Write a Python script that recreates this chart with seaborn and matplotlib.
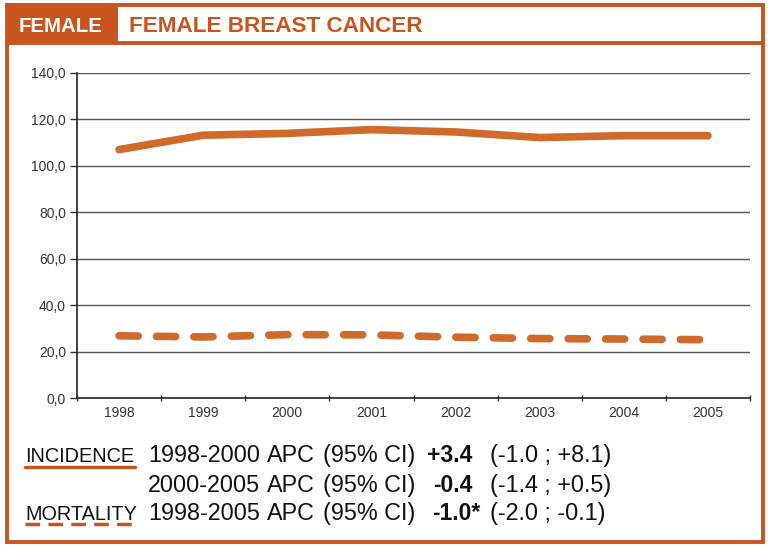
import pandas as pd
import seaborn as sns
import matplotlib.pyplot as plt
from matplotlib.patches import Rectangle
from matplotlib.lines import Line2D
from matplotlib.ticker import FixedLocator

# Data
years = ["1998", "1999", "2000", "2001", "2002", "2003", "2004", "2005"]
incidence = [107.0, 113.2, 114.0, 115.6, 114.6, 112.2, 113.0, 113.0]
mortality = [26.8, 26.3, 27.3, 27.2, 26.2, 25.6, 25.4, 25.1]

y_ticks = [0, 20, 40, 60, 80, 100, 120, 140]
y_tick_labels = ["0,0", "20,0", "40,0", "60,0", "80,0", "100,0", "120,0", "140,0"]

header_tag = "FEMALE"
title = "FEMALE BREAST CANCER"
row_labels = ["INCIDENCE", "", "MORTALITY"]
row_periods = ["1998-2000", "2000-2005", "1998-2005"]
row_apc = ["+3.4", "-0.4", "-1.0*"]
row_ci = ["(-1.0 ; +8.1)", "(-1.4 ; +0.5)", "(-2.0 ; -0.1)"]

W, H = 768, 548
FRAME = "#C8541F"
LINE = "#CF6A2B"
TXT = "#111111"

sns.set_theme(style="white")
plt.rcParams["font.family"] = ["Liberation Sans", "DejaVu Sans"]


def fx(x):
    return x / W


def fy(y):
    return 1 - y / H


df = pd.DataFrame({
    "year": years * 2,
    "value": incidence + mortality,
    "series": ["Incidence"] * len(years) + ["Mortality"] * len(years),
})

fig = plt.figure(figsize=(W / 100, H / 100), dpi=100)
ax = fig.add_axes([fx(77), fy(398), fx(750) - fx(77), fy(73) - fy(398)])

# horizontal grid
for y in y_ticks[1:]:
    ax.axhline(y, color="#555555", lw=1.0, zorder=0)

sns.lineplot(data=df[df.series == "Incidence"], x="year", y="value", ax=ax,
             color=LINE, lw=5.5, solid_capstyle="round", sort=False)
sns.lineplot(data=df[df.series == "Mortality"], x="year", y="value", ax=ax,
             color=LINE, lw=5.5, sort=False, dashes=False)
ax.lines[-1].set_linestyle((0, (2.5, 2.4)))
ax.lines[-1].set_dash_capstyle("round")

ax.set_xlim(-0.5, len(years) - 0.5)
ax.set_ylim(0, 140)
ax.set_yticks(y_ticks)
ax.set_yticklabels(y_tick_labels)
ax.set_xticks(range(len(years)))
ax.set_xticklabels(years)
ax.xaxis.set_minor_locator(FixedLocator([i + 0.5 for i in range(-1, len(years))]))
ax.tick_params(axis="x", which="major", length=0, labelsize=10, labelcolor="#333333", pad=6)
ax.tick_params(axis="x", which="minor", length=5, width=1, color="#333333", direction="inout", bottom=True)
ax.tick_params(axis="y", length=5, width=1, color="#333333", direction="out", left=True,
               labelsize=10, labelcolor="#333333", pad=3)
ax.set_xlabel("")
ax.set_ylabel("")
for side in ["top", "right"]:
    ax.spines[side].set_visible(False)
for side in ["left", "bottom"]:
    ax.spines[side].set_color("#222222")
    ax.spines[side].set_linewidth(1.2)
ax.set_facecolor("none")

# frame and header
fig.patches.append(Rectangle((fx(7), fy(542)), fx(763) - fx(7), fy(5) - fy(542),
                             transform=fig.transFigure, fill=False, ec=FRAME, lw=2.8))
fig.patches.append(Rectangle((fx(7), fy(43)), fx(118) - fx(7), fy(5) - fy(43),
                             transform=fig.transFigure, fc=FRAME, ec=FRAME, lw=0))
fig.lines.append(Line2D([fx(7), fx(763)], [fy(43), fy(43)], transform=fig.transFigure,
                        color=FRAME, lw=2.8))
fig.text(fx(61), fy(32), header_tag, color="white", fontsize=14.7, fontweight="bold",
         ha="center", va="baseline")
fig.text(fx(129), fy(32), title, color=FRAME, fontsize=16.2, fontweight="bold",
         ha="left", va="baseline")

# APC table
baselines = [462, 492, 520]
for label, period, apc, ci, y in zip(row_labels, row_periods, row_apc, row_ci, baselines):
    if label:
        fig.text(fx(25), fy(y), label, fontsize=14.3, ha="left", va="baseline", color=TXT)
    fig.text(fx(148), fy(y), period, fontsize=16.8, ha="left", va="baseline", color=TXT)
    fig.text(fx(267), fy(y), "APC", fontsize=16.8, ha="left", va="baseline", color=TXT)
    fig.text(fx(323), fy(y), "(95% CI)", fontsize=16.8, ha="left", va="baseline", color=TXT)
    if apc.endswith("*"):
        fig.text(fx(432), fy(y), apc, fontsize=16.5, fontweight="bold", ha="left",
                 va="baseline", color=TXT)
    else:
        fig.text(fx(472), fy(y), apc, fontsize=16.5, fontweight="bold", ha="right",
                 va="baseline", color=TXT)
    fig.text(fx(490), fy(y), ci, fontsize=16.8, ha="left", va="baseline", color=TXT)

# legend underlines
fig.lines.append(Line2D([fx(25), fx(135)], [fy(467), fy(467)], transform=fig.transFigure,
                        color=FRAME, lw=2.5))
fig.lines.append(Line2D([fx(25), fx(135)], [fy(524), fy(524)], transform=fig.transFigure,
                        color=FRAME, lw=2.5, linestyle=(0, (4.2, 2.4))))

fig.savefig("out.png", dpi=100)
